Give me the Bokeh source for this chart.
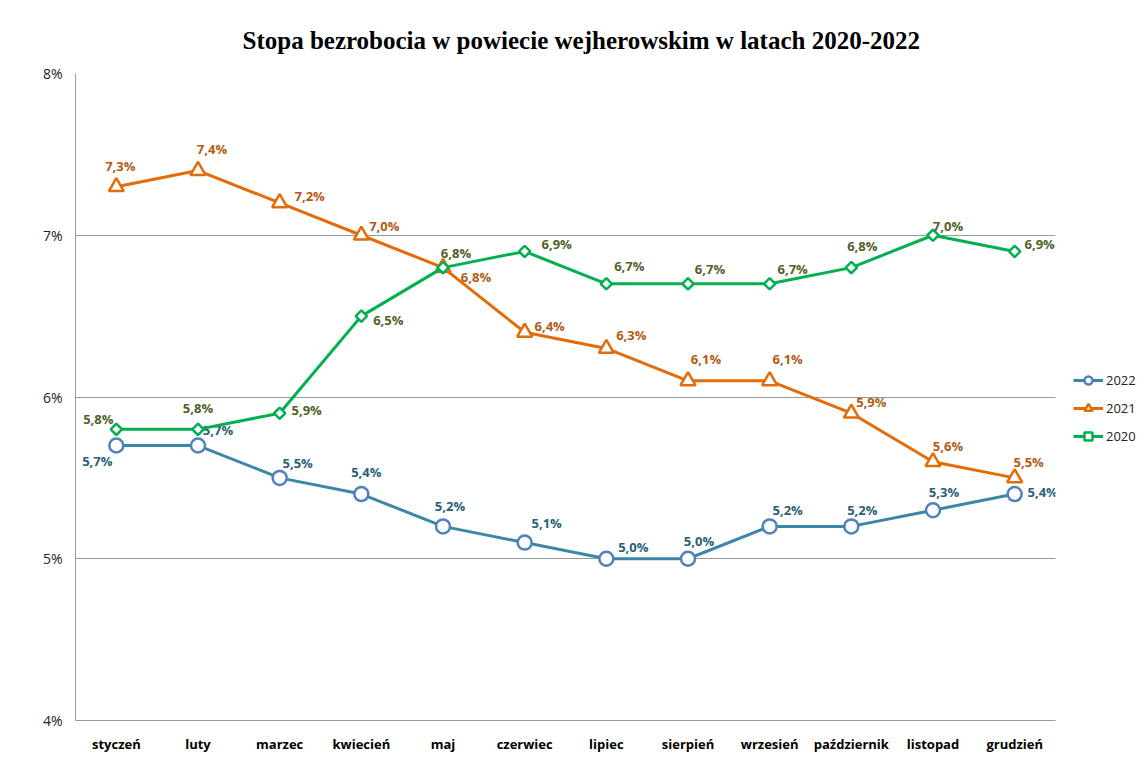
import math
from bokeh.plotting import figure
from bokeh.models import ColumnDataSource, FixedTicker, Legend, LegendItem, Range1d
from bokeh.core.properties import value
from bokeh.embed import file_html
from bokeh.resources import INLINE

months = ["styczeń", "luty", "marzec", "kwiecień", "maj", "czerwiec", "lipiec",
          "sierpień", "wrzesień", "październik", "listopad", "grudzień"]
y2022 = [5.7, 5.7, 5.5, 5.4, 5.2, 5.1, 5.0, 5.0, 5.2, 5.2, 5.3, 5.4]
y2021 = [7.3, 7.4, 7.2, 7.0, 6.8, 6.4, 6.3, 6.1, 6.1, 5.9, 5.6, 5.5]
y2020 = [5.8, 5.8, 5.9, 6.5, 6.8, 6.9, 6.7, 6.7, 6.7, 6.8, 7.0, 6.9]
y_ticks = [4, 5, 6, 7, 8]

# label offsets in screen px (x right, y down)
off2022 = [(-19, 15), (20, -16), (18, -15), (5, -22), (7, -20), (22, -20),
           (27, -12), (11, -18), (18, -16), (11, -16), (11, -18), (28, -2)]
off2021 = [(4, -21), (14, -22), (30, -7), (23, -9), (33, 9), (25, -6),
           (25, -13), (18, -22), (18, -22), (20, -11), (15, -16), (14, -16)]
off2020 = [(-18, -10), (0, -21), (27, -3), (27, 4), (13, -15), (32, -7),
           (23, -18), (22, -15), (23, -15), (11, -22), (15, -9), (25, -7)]

p = figure(frame_width=980, frame_height=647, x_range=months, y_range=Range1d(4, 8),
           output_backend="svg", toolbar_location=None,
           min_border_left=75, min_border_right=89, min_border_top=73, min_border_bottom=32)
p.title.text = "Stopa bezrobocia w powiecie wejherowskim  w latach 2020-2022"
p.title.align = "left"
p.title.text_font = "Liberation Serif"
p.title.text_font_size = "25px"
p.title.text_font_style = "bold"
p.title.text_color = "black"
p.title.offset = 167
p.title.standoff = 40

p.outline_line_color = None
p.xgrid.grid_line_color = None
p.ygrid.grid_line_color = "#9a9a9a"
p.ygrid.grid_line_width = 1
p.yaxis.ticker = FixedTicker(ticks=y_ticks)
p.yaxis.major_label_overrides = {t: f"{t}%" for t in y_ticks}
p.yaxis.major_label_text_font = "Open Sans"
p.yaxis.major_label_text_font_size = "14px"
p.yaxis.major_label_text_color = "#222222"
p.yaxis.axis_line_color = "#9a9a9a"
p.yaxis.major_tick_line_color = None
p.yaxis.major_tick_out = 0
p.yaxis.major_tick_in = 0
p.yaxis.minor_tick_line_color = None
p.yaxis.major_label_standoff = 13
p.xaxis.axis_line_color = "#9a9a9a"
p.xaxis.major_tick_line_color = None
p.xaxis.major_tick_out = 0
p.xaxis.major_tick_in = 0
p.xaxis.major_label_text_font = "Open Sans"
p.xaxis.major_label_text_font_size = "13px"
p.xaxis.major_label_text_font_style = "bold"
p.xaxis.major_label_text_color = "black"
p.xaxis.major_label_standoff = 14

series = [
    ("2022", y2022, off2022, "#3B87A8", "#4F81BD", "circle", 14, 0.0, "#2A5F78"),
    ("2021", y2021, off2021, "#E36C09", "#E36C09", "triangle", 15, 0.0, "#B45A14"),
    ("2020", y2020, off2020, "#00B050", "#00B050", "square", 8, math.pi / 4, "#4F6228"),
]

items = []
for name, ys, offs, lc, mc, marker, size, ang, tc in series:
    src = ColumnDataSource(dict(
        x=months, y=ys,
        lab=[f"{v:.1f}%".replace(".", ",") for v in ys],
        dx=[o[0] for o in offs], dy=[o[1] for o in offs],
    ))
    r1 = p.line("x", "y", source=src, line_color=lc, line_width=3)
    r2 = p.scatter("x", "y", source=src, marker=marker, size=size, angle=ang,
                   fill_color="white", line_color=mc, line_width=2.5)
    p.text("x", "y", text="lab", source=src, x_offset="dx", y_offset="dy",
           text_align="center", text_baseline="middle",
           text_font=value("Open Sans"), text_font_size="13px", text_font_style="bold",
           text_color=tc)
    items.append(LegendItem(label=name, renderers=[r1, r2]))

legend = Legend(items=items, location=(18, 274), border_line_color=None,
                background_fill_alpha=0, label_text_font="Open Sans",
                label_text_font_size="13px", label_text_color="#222222",
                glyph_width=30, label_standoff=3, spacing=8, margin=0, padding=2)
p.add_layout(legend, "right")

open("out.html", "w").write(file_html(p, INLINE))
